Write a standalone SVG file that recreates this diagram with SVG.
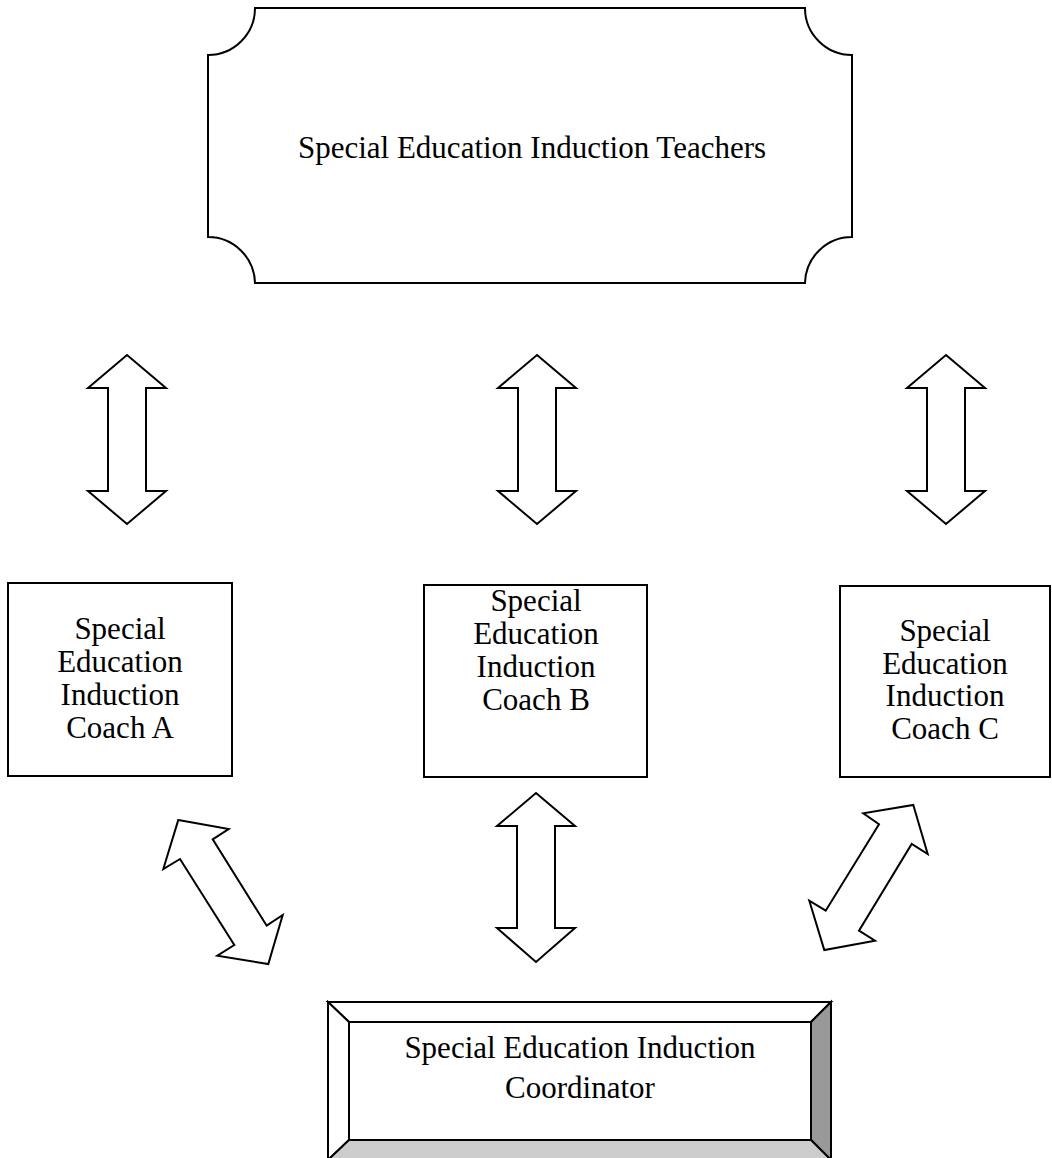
<svg xmlns="http://www.w3.org/2000/svg" width="1052" height="1158" viewBox="0 0 1052 1158">
<style>
  .ln { fill: #fff; stroke: #000; stroke-width: 2; stroke-linejoin: miter; }
  .arr { fill: #fff; stroke: #000; stroke-width: 2; stroke-linejoin: miter; }
  .t { font-family: "Liberation Serif", "Times New Roman", serif; font-size: 31px; fill: #000; text-anchor: middle; }
</style>
<rect width="1052" height="1158" fill="#fff"/>
<g id="teachers">
  <path class="ln" d="M255,8 H805 A47,47 0 0 0 852,55 V237 A47,47 0 0 0 805,283 H255 A47,47 0 0 0 208,237 V55 A47,47 0 0 0 255,8 Z"/>
  <text class="t" x="532" y="158">Special Education Induction Teachers</text>
</g>
<g id="coachA">
  <rect class="ln" x="8" y="583" width="224" height="193"/>
  <text class="t" x="120" y="639">Special</text>
  <text class="t" x="120" y="672">Education</text>
  <text class="t" x="120" y="705">Induction</text>
  <text class="t" x="120" y="738">Coach A</text>
</g>
<g id="coachB">
  <rect class="ln" x="424" y="585" width="223" height="192"/>
  <text class="t" x="536" y="611">Special</text>
  <text class="t" x="536" y="644">Education</text>
  <text class="t" x="536" y="677">Induction</text>
  <text class="t" x="536" y="710">Coach B</text>
</g>
<g id="coachC">
  <rect class="ln" x="840" y="586" width="210" height="191"/>
  <text class="t" x="945" y="641">Special</text>
  <text class="t" x="945" y="674">Education</text>
  <text class="t" x="945" y="706">Induction</text>
  <text class="t" x="945" y="739">Coach C</text>
</g>
<g id="coordinator">
  <rect x="328" y="1002" width="503" height="158" fill="#fff" stroke="#000" stroke-width="2"/>
  <polygon class="ln" points="328,1002 831,1002 811,1022 349,1022"/>
  <polygon class="ln" points="328,1002 349,1022 349,1140 328,1160"/>
  <polygon points="831,1002 831,1160 811,1140 811,1022" fill="#999" stroke="#000" stroke-width="2"/>
  <polygon points="328,1160 349,1140 811,1140 831,1160" fill="#ccc" stroke="#000" stroke-width="2"/>
  <rect class="ln" x="349" y="1022" width="462" height="118"/>
  <text class="t" x="580" y="1058">Special Education Induction</text>
  <text class="t" x="580" y="1098">Coordinator</text>
</g>
<g id="connectors">
  <polygon class="arr" points="127,355 166,388 146,388 146,491 166,491 127,524 88,491 108,491 108,388 88,388"/>
  <polygon class="arr" points="537,355 576,388 556,388 556,491 576,491 537,524 498,491 518,491 518,388 498,388"/>
  <polygon class="arr" points="946,355 985,388 965,388 965,491 985,491 946,524 907,491 927,491 927,388 907,388"/>
  <polygon class="arr" points="536,793 575,826 555,826 555,928 575,928 536,962 497,928 517,928 517,826 497,826"/>
  <polygon class="arr" points="178.3,820 228.7,829 212.7,839.3 266.7,925.7 282.7,915 268.3,964 217.3,955.7 234.3,945 180,859 163.3,869"/>
  <polygon class="arr" points="913.3,805 927.7,854 911.7,844 859,930.7 875,940.7 824.3,950 809.3,900.7 825.7,910.7 879,824.3 863.3,813.3"/>
</g>
</svg>
